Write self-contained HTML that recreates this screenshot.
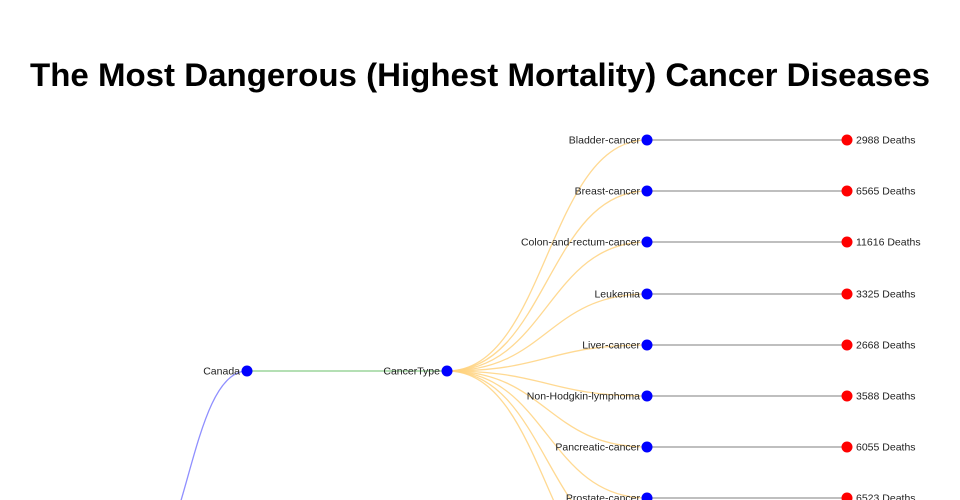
<!DOCTYPE html>
<html><head><meta charset="utf-8"><style>
html,body{margin:0;padding:0;background:#fff;overflow:hidden;width:960px;height:500px;}
svg{display:block;font-family:"Liberation Sans",sans-serif;overflow:hidden;}
</style></head><body>
<svg width="960" height="500" viewBox="0 0 960 500">
<text x="480" y="86" text-anchor="middle" font-size="32" font-weight="bold" fill="#000" textLength="900" lengthAdjust="spacingAndGlyphs">The Most Dangerous (Highest Mortality) Cancer Diseases</text>
<g fill="none" stroke-width="1.3">
<path d="M130,580 C188,580 188,371 247,371" stroke="#8f8fff"/>
<path d="M247,371 L447,371" stroke="#8c8"/>
<g stroke="#ffd27f" stroke-opacity="0.85">
<path d="M447,371 C547,371 547,140 647,140"/>
<path d="M447,371 C547,371 547,191 647,191"/>
<path d="M447,371 C547,371 547,242 647,242"/>
<path d="M447,371 C547,371 547,294 647,294"/>
<path d="M447,371 C547,371 547,345 647,345"/>
<path d="M447,371 C547,371 547,396 647,396"/>
<path d="M447,371 C547,371 547,447 647,447"/>
<path d="M447,371 C547,371 547,498 647,498"/>
<path d="M447,371 C547,371 547,549 647,549"/>
<path d="M447,371 C547,371 547,600 647,600"/>
</g>
<g stroke="#999">
<path d="M647,140H847M647,191H847M647,242H847M647,294H847M647,345H847M647,396H847M647,447H847M647,498H847"/>
</g>
</g>
<g fill="#00f">
<circle cx="247" cy="371" r="5.5"/><circle cx="447" cy="371" r="5.5"/>
<circle cx="647" cy="140" r="5.5"/><circle cx="647" cy="191" r="5.5"/><circle cx="647" cy="242" r="5.5"/><circle cx="647" cy="294" r="5.5"/><circle cx="647" cy="345" r="5.5"/><circle cx="647" cy="396" r="5.5"/><circle cx="647" cy="447" r="5.5"/><circle cx="647" cy="498" r="5.5"/>
</g>
<g fill="#f00">
<circle cx="847" cy="140" r="5.5"/><circle cx="847" cy="191" r="5.5"/><circle cx="847" cy="242" r="5.5"/><circle cx="847" cy="294" r="5.5"/><circle cx="847" cy="345" r="5.5"/><circle cx="847" cy="396" r="5.5"/><circle cx="847" cy="447" r="5.5"/><circle cx="847" cy="498" r="5.5"/>
</g>
<g font-size="10.5" fill="#222" text-anchor="end">
<text x="240" y="374.5">Canada</text>
<text x="440" y="374.5">CancerType</text>
<text x="640" y="143.5">Bladder-cancer</text>
<text x="640" y="194.5">Breast-cancer</text>
<text x="640" y="245.5">Colon-and-rectum-cancer</text>
<text x="640" y="297.5">Leukemia</text>
<text x="640" y="348.5">Liver-cancer</text>
<text x="640" y="399.5">Non-Hodgkin-lymphoma</text>
<text x="640" y="450.5">Pancreatic-cancer</text>
<text x="640" y="501.5">Prostate-cancer</text>
</g>
<g font-size="10.5" fill="#222">
<text x="856" y="143.5">2988 Deaths</text>
<text x="856" y="194.5">6565 Deaths</text>
<text x="856" y="245.5">11616 Deaths</text>
<text x="856" y="297.5">3325 Deaths</text>
<text x="856" y="348.5">2668 Deaths</text>
<text x="856" y="399.5">3588 Deaths</text>
<text x="856" y="450.5">6055 Deaths</text>
<text x="856" y="501.5">6523 Deaths</text>
</g>
</svg>
</body></html>
